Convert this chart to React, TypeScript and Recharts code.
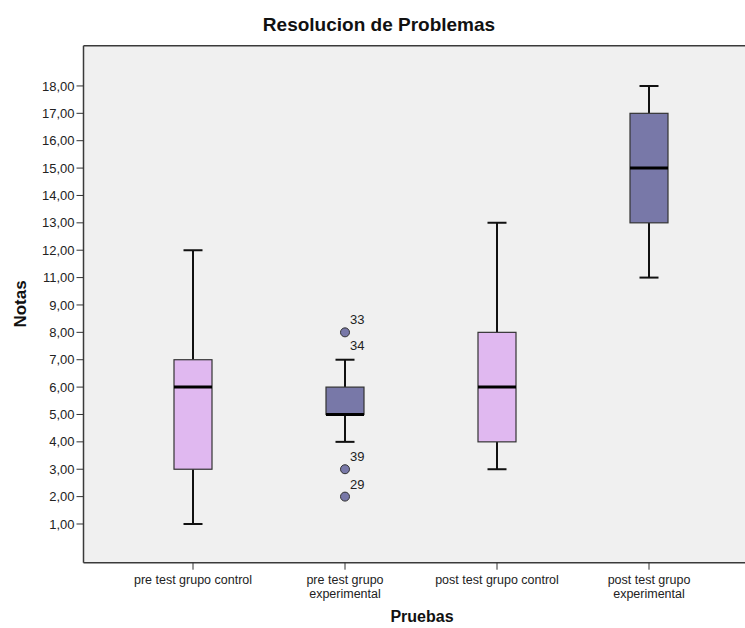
import React from "react";
import {
  ComposedChart,
  Bar,
  XAxis,
  YAxis,
  CartesianGrid,
  ReferenceLine,
  Label,
} from "recharts";

// ---- data ----
const categories = [
  "pre test grupo control",
  "pre test grupo experimental",
  "post test grupo control",
  "post test grupo experimental",
];
const categoryLines = [
  ["pre test grupo control"],
  ["pre test grupo", "experimental"],
  ["post test grupo control"],
  ["post test grupo", "experimental"],
];
const mins = [1, 4, 3, 11];
const q1s = [3, 5, 4, 13];
const medians = [6, 5, 6, 15];
const q3s = [7, 6, 8, 17];
const maxs = [12, 7, 13, 18];
const outlierValues: number[][] = [[], [8, 8, 3, 2], [], []];
const outlierIds: string[][] = [[], ["33", "34", "39", "29"], [], []];
const boxColors = ["#E0B8F0", "#7878A8", "#E0B8F0", "#7878A8"];

// y tick labels (as printed on the axis; "10,00" is absent, ticks evenly spaced)
const yTickValues = [1, 2, 3, 4, 5, 6, 7, 8, 9, 11, 12, 13, 14, 15, 16, 17, 18];
const yTickLabels = [
  "1,00", "2,00", "3,00", "4,00", "5,00", "6,00", "7,00", "8,00", "9,00",
  "11,00", "12,00", "13,00", "14,00", "15,00", "16,00", "17,00", "18,00",
];

const FONT = "'Liberation Sans', Arial, sans-serif";
const Y_MIN = -0.414;
const Y_MAX = 18.47;

// axis position of a value (index of its tick)
const pos = (v: number) => yTickValues.indexOf(v) + 1;

const data = categories.map((name, i) => ({
  name,
  idx: i,
  range: [pos(mins[i]), pos(maxs[i])],
}));

function BoxShape(props: any) {
  const { x, y, width, height, payload } = props;
  const i: number = payload && payload.idx !== undefined ? payload.idx : props.index;
  const pLo = pos(mins[i]);
  const pHi = pos(maxs[i]);
  const top = Math.min(y, y + height);
  const h = Math.abs(height);
  const py = (v: number) => top + (h * (pHi - pos(v))) / (pHi - pLo);
  const cx = x + width / 2;
  const capHalf = 9.5;
  const yMax = py(maxs[i]);
  const yQ3 = py(q3s[i]);
  const yMed = py(medians[i]);
  const yQ1 = py(q1s[i]);
  const yMin = py(mins[i]);
  const outs = outlierValues[i];
  return (
    <g>
      <line x1={cx} x2={cx} y1={yMax} y2={yQ3} stroke="#111" strokeWidth={2} />
      <line x1={cx} x2={cx} y1={yQ1} y2={yMin} stroke="#111" strokeWidth={2} />
      <line x1={cx - capHalf} x2={cx + capHalf} y1={yMax} y2={yMax} stroke="#111" strokeWidth={2} />
      <line x1={cx - capHalf} x2={cx + capHalf} y1={yMin} y2={yMin} stroke="#111" strokeWidth={2} />
      <rect
        x={x}
        y={yQ3}
        width={width}
        height={yQ1 - yQ3}
        fill={boxColors[i]}
        stroke="#333"
        strokeWidth={1.2}
      />
      <line x1={x} x2={x + width} y1={yMed} y2={yMed} stroke="#000" strokeWidth={3} />
      {outs.map((v, k) => {
        const oy = py(v);
        const dup = k > 0 && outs[k - 1] === v;
        return (
          <g key={k}>
            {!dup && (
              <circle cx={cx} cy={oy} r={4.5} fill="#7878A8" stroke="#333" strokeWidth={1} />
            )}
            <text
              x={cx + 5}
              y={oy - 8 + (dup ? 26 : 0)}
              fontSize={13}
              fontFamily={FONT}
              fill="#222"
            >
              {outlierIds[i][k]}
            </text>
          </g>
        );
      })}
    </g>
  );
}

function XTick(props: any) {
  const { x, y, index } = props;
  const lines = categoryLines[index] || [];
  return (
    <text x={x} y={y} textAnchor="middle" fontSize={12.5} fontFamily={FONT} fill="#222">
      {lines.map((l: string, k: number) => (
        <tspan key={k} x={x} dy={k === 0 ? "0.71em" : 13.5}>
          {l}
        </tspan>
      ))}
    </text>
  );
}

export default function App() {
  return (
    <div style={{ position: "absolute", left: 0, top: 0, width: 745, height: 628, background: "#fff" }}>
      <div
        style={{
          position: "absolute",
          left: 0,
          width: 758,
          top: 14,
          textAlign: "center",
          fontFamily: FONT,
          fontWeight: "bold",
          fontSize: 19,
          color: "#111",
          lineHeight: "22px",
          zIndex: 2,
        }}
      >
        Resolucion de Problemas
      </div>
      <ComposedChart
        width={745}
        height={628}
        data={data}
        margin={{ top: 45.7, right: 0, bottom: 0, left: 0 }}
      >
        <CartesianGrid fill="#F0F0F0" stroke="none" horizontal={false} vertical={false} />
        <XAxis
          dataKey="name"
          type="category"
          padding={{ left: 33.5, right: 20 }}
          height={65.3}
          tickSize={7}
          tickMargin={5.5}
          interval={0}
          tick={<XTick />}
          tickLine={{ stroke: "#333" }}
          axisLine={{ stroke: "#3a3a3a", strokeWidth: 1.5 }}
        >
          <Label
            content={() => (
              <text
                x={422}
                y={622}
                textAnchor="middle"
                fontSize={16}
                fontWeight="bold"
                fontFamily={FONT}
                fill="#111"
              >
                Pruebas
              </text>
            )}
          />
        </XAxis>
        <YAxis
          type="number"
          domain={[Y_MIN, Y_MAX]}
          allowDataOverflow
          ticks={yTickValues.map((_, i) => i + 1)}
          tickFormatter={(v: number) => yTickLabels[v - 1]}
          interval={0}
          width={83.5}
          tickSize={7}
          tickMargin={2}
          tick={{ fontSize: 13, fill: "#222", fontFamily: FONT }}
          tickLine={{ stroke: "#333" }}
          axisLine={{ stroke: "#3a3a3a", strokeWidth: 1.5 }}
        >
          <Label
            content={() => (
              <text
                x={20}
                y={304}
                transform="rotate(-90 20 304)"
                textAnchor="middle"
                dominantBaseline="central"
                fontSize={17}
                fontWeight="bold"
                fontFamily={FONT}
                fill="#111"
              >
                Notas
              </text>
            )}
          />
        </YAxis>
        <ReferenceLine y={Y_MAX} stroke="#3a3a3a" strokeWidth={1.5} />
        <Bar dataKey="range" barSize={38} shape={BoxShape} isAnimationActive={false} />
      </ComposedChart>
    </div>
  );
}
